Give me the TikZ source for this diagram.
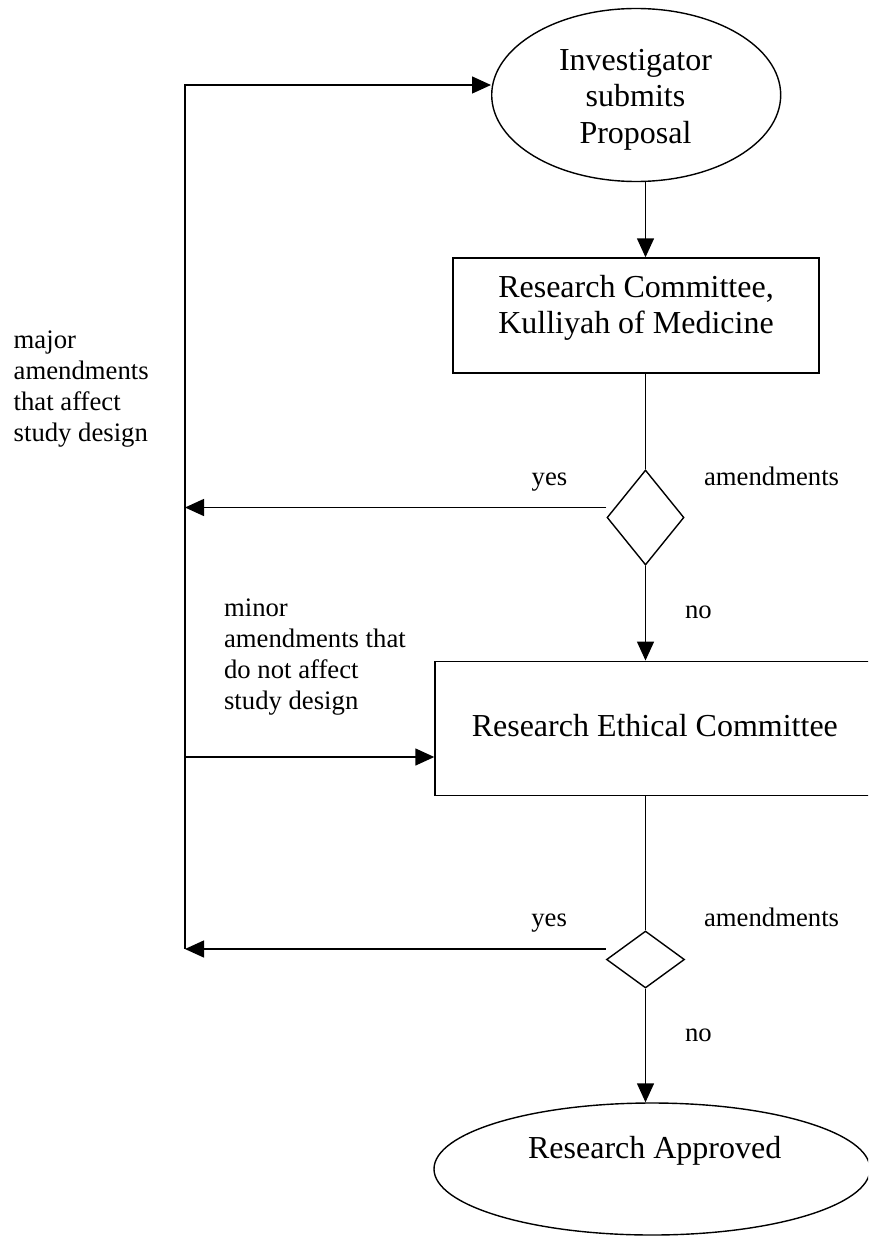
\documentclass[tikz,border=0pt]{standalone}
\usepackage{fontspec}
\setmainfont{Liberation Serif}
\usetikzlibrary{shapes.geometric,arrows.meta}
\begin{document}
\begin{tikzpicture}[x=1pt,y=-1pt,line width=1.4pt,line join=miter,
  arr/.style={-{Triangle[length=19pt,width=17pt]}},
  bigtxt/.style={font=\fontsize{32}{36.8}\selectfont,inner sep=0pt,align=center},
  smalltxt/.style={font=\fontsize{26.7}{31}\selectfont,inner sep=0pt,align=left,anchor=west},
  lbl/.style={font=\fontsize{26.7}{31}\selectfont,inner sep=0pt,anchor=base west},
  oval/.style={draw,ellipse,inner sep=0pt},
  boxx/.style={draw,rectangle,inner sep=0pt},
  dec/.style={draw,diamond,inner sep=0pt}]
\useasboundingbox (0,0) rectangle (868,1236);
\clip (0,0) rectangle (868,1236);
% shapes
\node[oval,minimum width=289pt,minimum height=173pt] (inv) at (636.2,95) {};
\node[bigtxt] (invtxt) at (635.5,99.8) {Investigator\\submits\\Proposal};
\node[boxx,minimum width=366pt,minimum height=115pt] (rc) at (636,315.5) {};
\node[bigtxt] (rctxt) at (636,307.9) {Research Committee,\\Kulliyah of Medicine};
\node[dec,minimum width=77pt,minimum height=95pt] (d1) at (645.5,517.5) {};
\node[boxx,minimum width=455pt,minimum height=134.5pt] (rec) at (662.5,728.5) {};
\node[bigtxt,anchor=base] (rectxt) at (654.8,736.7) {Research Ethical Committee};
\node[dec,minimum width=78pt,minimum height=57pt] (d2) at (645.5,959.5) {};
\node[oval,minimum width=436pt,minimum height=132pt] (bot) at (652,1169) {};
\node[bigtxt,anchor=base] (bottxt) at (654.7,1158.3) {Research Approved};
% loop coordinates
\coordinate (loopTop) at (185,85);
\coordinate (yes1) at (185,507.5);
\coordinate (minorStart) at (185,757);
\coordinate (loopBot) at (185,949);
% connectors
\draw[arr] (loopBot) -- (loopTop) -- (loopTop -| inv.west);
\draw[arr] (inv.south -| d1.north) -- (rc.north -| d1.north);
\draw (rc.south -| d1.north) -- (d1.north);
\draw[arr] (d1.west |- yes1) -- (yes1);
\draw[arr] (d1.south) -- (rec.north -| d1.south);
\draw[arr] (minorStart) -- (minorStart -| rec.west);
\draw (rec.south -| d2.north) -- (d2.north);
\draw[arr] (d2.west |- loopBot) -- (loopBot);
\draw[arr] (d2.south) -- (bot.north -| d2.south);
% labels
\node[smalltxt] (major) at (13,389.3) {major\\amendments\\that affect\\study design};
\node[smalltxt] (minor) at (223.4,656.8) {minor\\amendments that\\do not affect\\study design};
\node[lbl] (yesA) at (531,485) {yes};
\node[lbl] (amA) at (703.4,485) {amendments};
\node[lbl] (noA) at (684.3,618.3) {no};
\node[lbl] (yesB) at (530.6,926) {yes};
\node[lbl] (amB) at (703.4,926) {amendments};
\node[lbl] (noB) at (684.3,1041) {no};
\end{tikzpicture}
\end{document}
